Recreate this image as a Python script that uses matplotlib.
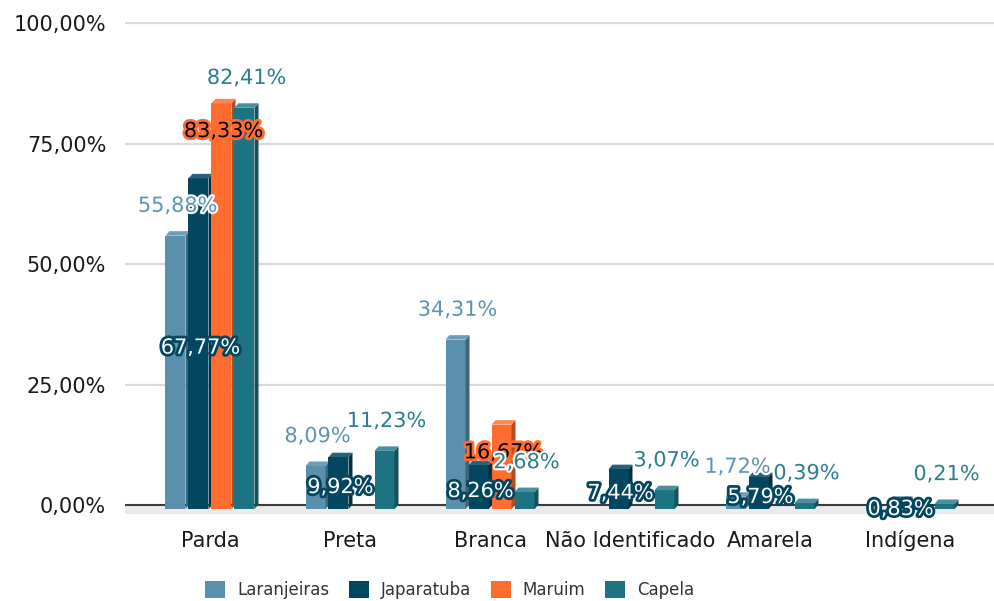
import matplotlib
matplotlib.use("Agg")
import matplotlib.pyplot as plt
from matplotlib.patches import Polygon, Patch
import matplotlib.patheffects as pe
import matplotlib.transforms as mtrans

# ---------------- data ----------------
categories = ["Parda", "Preta", "Branca", "Não Identificado", "Amarela", "Indígena"]
series_names = ["Laranjeiras", "Japaratuba", "Maruim", "Capela"]
laranjeiras = [55.88, 8.09, 34.31, None, 1.72, None]
japaratuba = [67.77, 9.92, 8.26, 7.44, 5.79, 0.83]
maruim = [83.33, None, 16.67, None, None, None]
capela = [82.41, 11.23, 2.68, 3.07, 0.39, 0.21]
yticks = [0, 25, 50, 75, 100]

series_values = [laranjeiras, japaratuba, maruim, capela]
face_colors = ["#5B8FAE", "#02465F", "#FF6C2F", "#1D7381"]
side_colors = ["#3F6579", "#013142", "#B34C21", "#14515A"]
top_colors = ["#6E9DB9", "#2D6177", "#FF8653", "#4A8F99"]

def fmt(v):
    return f"{v:.2f}".replace(".", ",") + "%"

W, H = 995, 601
fig = plt.figure(figsize=(W / 100, H / 100), dpi=100)
ax_left, ax_right = 125 / W, 1.0
ax_bottom, ax_top = 1 - 514 / H, 1 - 15 / H
ax = fig.add_axes([ax_left, ax_bottom, ax_right - ax_left, ax_top - ax_bottom])

px_per_unit_y = (514 - 15) / (101.66 + 1.867)
ax.set_ylim(-1.867, 101.66)
ax.set_xlim((125 - 210) / 140, (995 - 210) / 140)

for s in ax.spines.values():
    s.set_visible(False)

# grid / floor
for t in yticks[1:]:
    ax.axhline(t, color="#D9D9D9", lw=1.6, zorder=0)
ax.axhspan(-1.867, 0, color="#EBEBEB", lw=0, zorder=0)
ax.axhline(0, color="#3C3C3C", lw=1.5, zorder=0.5)

pitch = 23 / 140
width = 20 / 140
dx = 4 / 140
dy = 4.5 / px_per_unit_y
base = -0.85

label_font = 15
for si, vals in enumerate(series_values):
    off = (si - 1.5) * pitch
    for ci, v in enumerate(vals):
        if v is None:
            continue
        xc = ci + off
        x0, x1 = xc - width / 2, xc + width / 2
        z = 2 + si
        ax.bar(xc, v - base, bottom=base, width=width, color=face_colors[si],
               lw=0, zorder=z)
        ax.add_patch(Polygon([(x1, base), (x1 + dx, base + dy), (x1 + dx, v + dy), (x1, v)],
                             closed=True, color=side_colors[si], lw=0, zorder=z))
        ax.add_patch(Polygon([(x0, v), (x0 + dx, v + dy), (x1 + dx, v + dy), (x1, v)],
                             closed=True, color=top_colors[si], lw=0, zorder=z))

# data labels
for si, vals in enumerate(series_values):
    off = (si - 1.5) * pitch
    for ci, v in enumerate(vals):
        if v is None:
            continue
        xc = ci + off + dx / 2
        z = 20 + si
        if si == 0:
            ax.annotate(fmt(v), (xc, v), xytext=(0, 21.5), textcoords="offset points",
                        ha="center", va="center", fontsize=label_font, color="#5F93B2",
                        zorder=z,
                        path_effects=[pe.withStroke(linewidth=3, foreground="white")])
        elif si == 1:
            ax.annotate(fmt(v), (xc, v / 2), xytext=(0, -4.3), textcoords="offset points",
                        ha="center", va="center", fontsize=label_font, color="white",
                        zorder=z,
                        path_effects=[pe.withStroke(linewidth=4, foreground="#02465F")])
        elif si == 2:
            ax.annotate(fmt(v), (xc, v), xytext=(0, -20), textcoords="offset points",
                        ha="center", va="center", fontsize=label_font, color="black",
                        zorder=z,
                        path_effects=[pe.withStroke(linewidth=4, foreground="#FF6C2F")])
        else:
            ax.annotate(fmt(v), (xc, v), xytext=(0, 21.5), textcoords="offset points",
                        ha="center", va="center", fontsize=label_font, color="#2A7F8C",
                        zorder=z,
                        path_effects=[pe.withStroke(linewidth=3, foreground="white")])

# y axis ticks
ax.set_yticks(yticks)
ax.set_yticklabels([fmt(t) for t in yticks], fontsize=15, color="#1A1A1A")
ax.tick_params(axis="y", length=0, pad=13.5)

# x category labels, on a common baseline
ax.set_xticks(range(len(categories)))
ax.set_xticklabels([])
ax.tick_params(axis="x", length=0)
base_y = (514 - 547) / (514 - 15)
trans = mtrans.blended_transform_factory(ax.transData, ax.transAxes)
for i, c in enumerate(categories):
    ax.text(i, base_y, c, transform=trans, ha="center", va="baseline",
            fontsize=15, color="#1A1A1A", clip_on=False)

# legend
handles = [Patch(facecolor=c, edgecolor="none") for c in face_colors]
fig.legend(handles, series_names, loc="center", bbox_to_anchor=(0.452, 1 - 590 / H),
           ncol=4, frameon=False, fontsize=12, handlelength=1.2, handleheight=1.2,
           handletextpad=0.7, columnspacing=1.2, labelcolor="#333333")

fig.savefig("out.png", dpi=100)
